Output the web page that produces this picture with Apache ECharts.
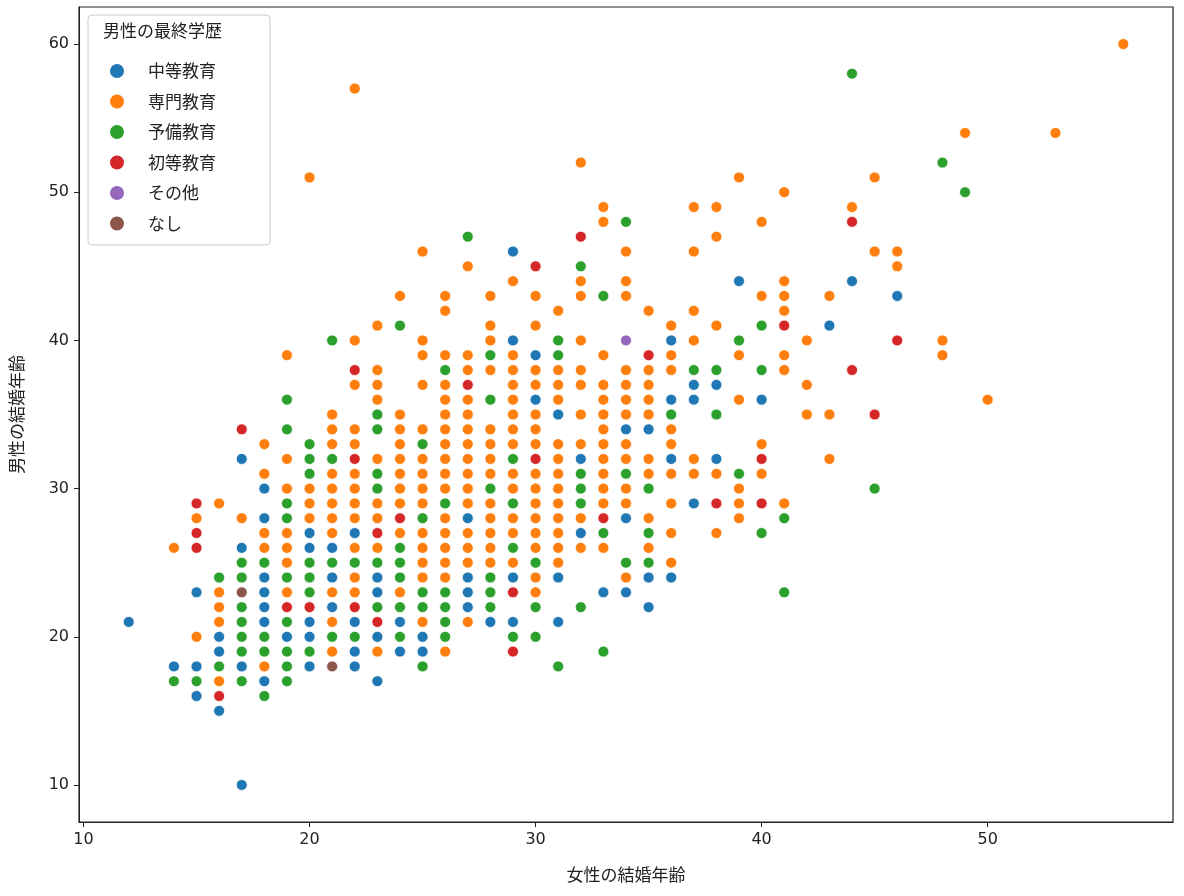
<!DOCTYPE html>
<html><head><meta charset="utf-8">
<script src="https://cdn.jsdelivr.net/npm/echarts@6/dist/echarts.min.js"></script>
<style>html,body{margin:0;padding:0;background:#fff}#c{width:1184px;height:896px}</style>
</head><body><div id="c"></div>
<script>
const categories = ['中等教育','専門教育','予備教育','初等教育','その他','なし'];
const colors = ['#1f77b4','#ff7f0e','#2ca02c','#d62728','#9467bd','#8c564b'];
const xTicks = [10,20,30,40,50];
const yTicks = [10,20,30,40,50,60];
// columns: women's age -> list of men's ages
const blueCols = {12:[21],14:[18],15:[23,18,16],16:[20,19,15],17:[32,26,18,10],18:[30,28,24,23,22,21,17],19:[20],20:[27,26,21,20,18],21:[26,24,22],22:[27,21,19,18],23:[24,23,20,17],24:[21,19],25:[20,19],27:[28,24,23,22],28:[21],29:[46,40,24,21],30:[39,36],31:[35,24,21],32:[32,27],33:[23],34:[34,28,23],35:[34,24,22],36:[40,36,32,24],37:[37,36,29],38:[37,32],39:[44],40:[36],43:[41],44:[44],46:[43]};
const orangeCols = {14:[26],15:[28,20],16:[29,23,22,21,17],17:[28],18:[33,31,27,26,18],19:[39,32,30,27,26,25,23],20:[51,30,29,28],21:[35,34,33,31,30,29,28,27,23,21,19],22:[57,40,37,34,33,31,30,29,28,26,24,23],23:[41,38,37,36,32,29,28,26,19],24:[43,35,34,33,32,31,30,29,27,23],25:[46,40,39,37,34,32,31,30,29,27,26,25,24,21],26:[43,42,39,37,36,35,34,33,32,31,30,28,27,26,25,24,19],27:[45,39,38,36,35,34,33,32,31,30,29,27,26,25,21],28:[43,41,40,38,34,33,32,31,29,28,27,26,25],29:[44,39,38,37,36,35,34,33,31,30,28,27,25],30:[43,41,38,37,35,34,33,31,30,29,28,27,26,24,23],31:[42,38,37,36,33,32,31,30,29,28,27,26,25],32:[52,44,43,40,38,37,35,33,28,26],33:[49,48,39,37,36,35,34,33,32,31,30,29,26],34:[46,44,43,38,37,36,35,33,32,30,29,24],35:[42,38,37,36,35,32,31,28,26],36:[41,39,38,34,33,31,29,27,25],37:[49,46,42,40,32,31],38:[49,47,41,31,27],39:[51,39,36,30,29,28],40:[48,43,33,31],41:[50,44,43,42,39,38,29],42:[40,37,35],43:[43,35,32],44:[49],45:[51,46],46:[46,45],48:[40,39],49:[54],50:[36],53:[54],56:[60]};
const greenCols = {14:[17],15:[17],16:[24,18],17:[25,24,22,21,20,19,17],18:[25,20,19,16],19:[36,34,29,28,24,21,19,18,17],20:[33,32,31,25,24,23,19],21:[40,32,25,20],22:[25,20],23:[35,34,31,30,25,22],24:[41,26,25,24,22,20],25:[33,28,23,22,18],26:[38,29,23,22,21,20],27:[47],28:[39,36,30,24,23,22],29:[32,29,26,20],30:[25,22,20],31:[40,39,18],32:[45,31,30,29,22],33:[43,27,19],34:[48,31,25],35:[30,27,25],36:[35],37:[38],38:[38,35],39:[40,31],40:[41,38,27],41:[28,23],44:[58],45:[30],48:[52],49:[50]};
const redCols = {15:[29,27,26],16:[16],17:[34],19:[22],20:[22],22:[38,32,22],23:[27,21],24:[28],27:[37],29:[23,19],30:[45,32],32:[47],33:[28],35:[39],38:[29],40:[32,29],41:[41],44:[48,38],45:[35],46:[40]};
const purpleCols = {34:[40]};
const brownCols = {17:[23],21:[18]};
const allCols = [blueCols, orangeCols, greenCols, redCols, purpleCols, brownCols];

function toPairs(cols){const out=[];for(const k in cols){for(const y of cols[k]) out.push([+k,y]);}return out;}
const font = "'DejaVu Sans','Noto Sans CJK JP',sans-serif";
const chart = echarts.init(document.getElementById('c'));
chart.setOption({
  animation:false,
  textStyle:{fontFamily:font},
  grid:{left:79,right:11,top:7,bottom:74,show:true,borderColor:'#222',borderWidth:1.2},
  xAxis:{type:'value',min:9.8,max:58.2,splitLine:{show:false},
    name:'女性の結婚年齢',nameLocation:'middle',nameGap:44,nameTextStyle:{fontSize:17,color:'#222',fontFamily:'Noto Sans CJK JP'},
    axisLine:{onZero:false,lineStyle:{color:'#222'}},
    axisTick:{show:true,length:5,customValues:xTicks,lineStyle:{color:'#222'}},
    axisLabel:{customValues:xTicks,fontSize:16,color:'#222',margin:10}},
  yAxis:{type:'value',min:7.5,max:62.5,splitLine:{show:false},
    name:'男性の結婚年齢',nameLocation:'middle',nameGap:54,nameTextStyle:{fontSize:17,color:'#222',fontFamily:'Noto Sans CJK JP'},
    axisLine:{onZero:false,lineStyle:{color:'#222'}},
    axisTick:{show:true,length:5,customValues:yTicks,lineStyle:{color:'#222'}},
    axisLabel:{customValues:yTicks,fontSize:16,color:'#222',margin:10}},
  legend:{orient:'vertical',left:103,top:57,itemGap:12.5,itemWidth:16,itemHeight:16,z:20,
    icon:'circle',textStyle:{fontSize:17,color:'#222',fontFamily:'Noto Sans CJK JP',padding:[0,0,0,18]},
    data:categories},
  graphic:[
    {type:'rect',z:10,shape:{x:88,y:15,width:182,height:230,r:4},style:{fill:'rgba(255,255,255,0.85)',stroke:'#ccc',lineWidth:1}},
    {type:'text',z:11,left:103,top:22,style:{text:'男性の最終学歴',font:"17px 'Noto Sans CJK JP'",fill:'#222'}}
  ],
  series: categories.map((c,i)=>({
    name:c,type:'scatter',data:toPairs(allCols[i]),symbolSize:11,
    itemStyle:{color:colors[i],borderColor:'#fff',borderWidth:0.8,opacity:1},z:2
  }))
});
</script></body></html>
